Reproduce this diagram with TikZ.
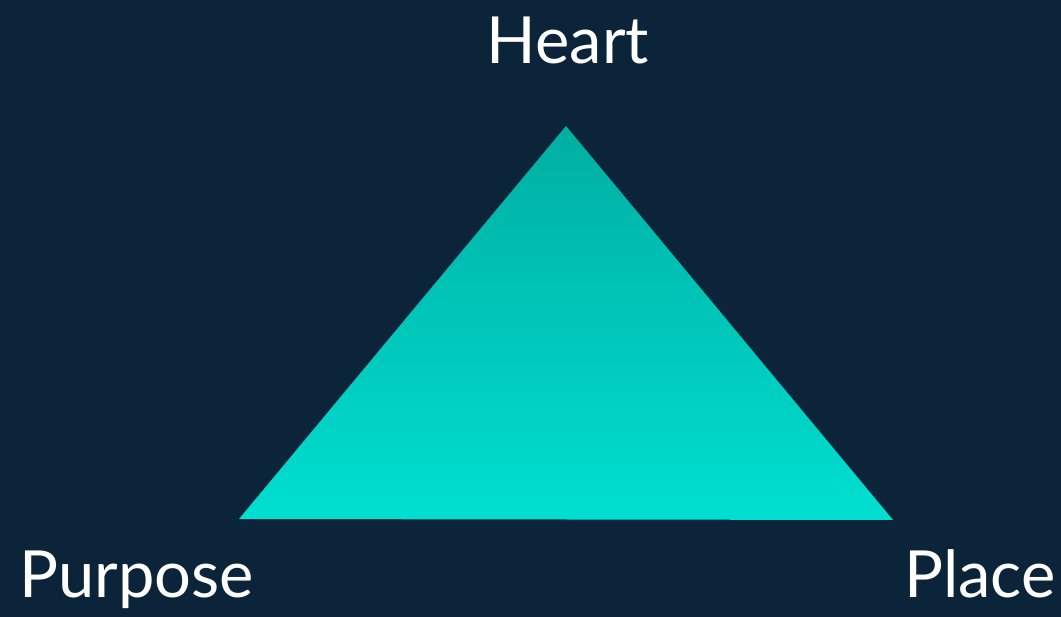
\documentclass[tikz,border=0pt]{standalone}
\usepackage{fontspec}
\setmainfont{Lato}
\usepackage{tikz}
\usetikzlibrary{positioning}
\definecolor{navy}{HTML}{0B2439}
\definecolor{tealtop}{HTML}{00AEA2}
\definecolor{tealbot}{HTML}{00DFD1}
\tikzset{
  label/.style={text=white, font=\fontsize{37}{41}\selectfont, inner sep=0pt},
}

\begin{document}
\begin{tikzpicture}[x=0.02cm,y=-0.02cm]

% Background
\fill[navy] (0,0) rectangle (1061,617);
\useasboundingbox (0,0) rectangle (1061,617);

% Corners
\coordinate (top) at (566,126);
\coordinate (left) at (239,519);
\coordinate (right) at (893,520);

% Triangle
\shade[top color=tealtop, bottom color=tealbot] (top) -- (left) -- (right) -- cycle;

% Labels
\node[label,anchor=base] (heart) at (568,64) {Heart};
\node[label,anchor=base west] (purpose) at (19,598) {Purpose};
\node[label,anchor=base east] (place) at (1056,598) {Place};

\end{tikzpicture}
\end{document}
